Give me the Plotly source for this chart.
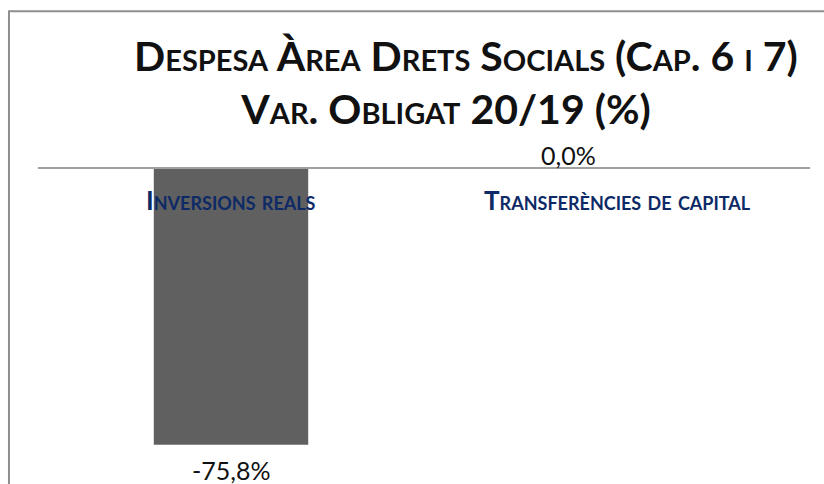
import plotly.graph_objects as go

categories = ["Inversions reals", "Transferències de capital"]
values = [-75.8, 0.0]
value_labels = ["-75,8%", "0,0%"]
title_lines = ["Despesa Àrea Drets Socials (Cap. 6 i 7)", "Var. Obligat 20/19 (%)" + "\u00a0" * 4]

font_family = "Lato, 'Open Sans', sans-serif"
navy = "#0d2a66"
frame_grey = "#8e8e8e"

fig = go.Figure()
fig.add_trace(
    go.Bar(
        x=categories,
        y=values,
        marker_color="#606060",
        marker_line_width=0,
        hoverinfo="skip",
    )
)

# value labels: the negative one sits under its bar, the zero one over the axis line
fig.add_annotation(
    x=categories[0], y=values[0], text=value_labels[0], showarrow=False,
    yanchor="middle", yshift=-25, font=dict(family=font_family, size=25, color="#111111"),
)
fig.add_annotation(
    x=categories[1], y=values[1], text=value_labels[1], showarrow=False,
    yanchor="bottom", yshift=-3, xshift=-49,
    font=dict(family=font_family, size=25, color="#111111"),
)

# category names, drawn just under the zero line
for cat in categories:
    fig.add_annotation(
        x=cat, y=0, text="<b>%s</b>" % cat, showarrow=False,
        yanchor="middle", yshift=-31,
        font=dict(family=font_family, size=26, color=navy, variant="small-caps"),
    )

# outer chart frame (its right and bottom edges fall outside the picture)
fig.add_shape(
    type="rect", xref="paper", yref="paper",
    x0=-0.0376, x1=1.1, y0=-0.2, y1=1.542,
    line=dict(color=frame_grey, width=2), fillcolor="rgba(0,0,0,0)", layer="below",
)

fig.update_layout(
    width=824,
    height=484,
    margin=dict(l=38, r=14, t=169, b=24),
    paper_bgcolor="white",
    plot_bgcolor="white",
    showlegend=False,
    bargap=0.6,
    title=dict(
        text="<b>%s</b>" % "<br>".join(title_lines),
        x=0.5655, xanchor="center", xref="container",
        y=0.853, yanchor="middle", yref="container",
        font=dict(family=font_family, size=41, color="#111111", variant="small-caps"),
    ),
    xaxis=dict(
        side="top", showline=True, linecolor="#a0a0a0", linewidth=2,
        showticklabels=False, ticks="", showgrid=False, zeroline=False,
    ),
    yaxis=dict(
        range=[-80, 0], visible=False, showgrid=False, zeroline=False,
    ),
)

# drop the page's default body margin so the figure fills the window
fig.write_html(
    "out.html",
    config={"displayModeBar": False},
    post_script="document.body.style.margin='0';",
)
